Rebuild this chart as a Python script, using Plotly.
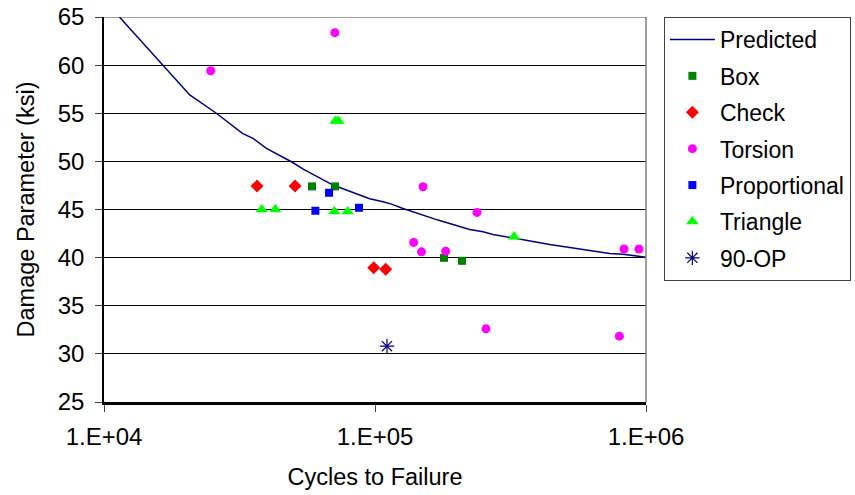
import plotly.graph_objects as go

# ---- data ----
pred_n = [10950, 16750, 20720, 25980, 32420, 35460, 39750, 49150, 54550, 70000,
          87800, 95600, 107000, 115000, 126900, 170800, 223500, 250300, 272500,
          441300, 585600, 735000, 822400, 989000, 1000000]
pred_s = [65.55, 59.83, 56.9, 55.0, 52.9, 52.39, 51.35, 49.96, 49.17, 47.54,
          46.5, 46.11, 45.8, 45.56, 45.11, 43.9, 42.93, 42.68, 42.41,
          41.37, 40.85, 40.44, 40.36, 40.08, 40.05]

box_n = [58560, 71200, 179700, 209400]
box_s = [47.4, 47.4, 39.98, 39.67]

check_n = [36700, 50700, 98900, 109500]
check_s = [47.43, 47.43, 38.94, 38.8]

torsion_n = [24770, 71100, 150400, 237900, 138900, 148400, 182300, 256800, 797800, 829700, 942000]
torsion_s = [59.42, 63.37, 47.36, 44.7, 41.58, 40.6, 40.67, 32.6, 31.84, 40.9, 40.9]

prop_n = [60260, 67700, 87300]
prop_s = [44.87, 46.74, 45.18]

tri_n = [38200, 42900, 70800, 79300, 71500, 73300, 326000]
tri_s = [45.0, 45.0, 44.8, 44.8, 54.2, 54.2, 42.16]

op90_n = [110700]
op90_s = [30.8]

y_ticks = [25, 30, 35, 40, 45, 50, 55, 60, 65]
x_ticks = [1e4, 1e5, 1e6]
x_tick_labels = ["1.E+04", "1.E+05", "1.E+06"]

FONT = "Liberation Sans, Arial, sans-serif"
FS = 24
FT = 23.5
FL = 23

fig = go.Figure()
fig.add_trace(go.Scatter(x=pred_n, y=pred_s, mode="lines", name="Predicted",
                         line=dict(color="#000080", width=1.5), legendgroup="a"))
fig.add_trace(go.Scatter(x=box_n, y=box_s, mode="markers", name="Box", legendgroup="b",
                         marker=dict(symbol="square", size=8, color="#008000")))
fig.add_trace(go.Scatter(x=check_n, y=check_s, mode="markers", name="Check", legendgroup="c",
                         marker=dict(symbol="diamond", size=10, color="#FF0000")))
fig.add_trace(go.Scatter(x=torsion_n, y=torsion_s, mode="markers", name="Torsion", legendgroup="d",
                         marker=dict(symbol="circle", size=9, color="#FF00FF")))
fig.add_trace(go.Scatter(x=prop_n, y=prop_s, mode="markers", name="Proportional", legendgroup="e",
                         marker=dict(symbol="square", size=8, color="#0000FF")))
fig.add_trace(go.Scatter(x=tri_n, y=tri_s, mode="markers", name="Triangle", legendgroup="f",
                         marker=dict(symbol="triangle-up", size=11, color="#00FF00")))
fig.add_trace(go.Scatter(x=op90_n, y=op90_s, mode="markers", name="90-OP", legendgroup="g",
                         marker=dict(symbol="asterisk-open", size=12, color="#000080",
                                     line=dict(color="#000080", width=1.2))))

fig.update_layout(
    width=855, height=495,
    margin=dict(l=104, r=209, t=17, b=93, autoexpand=False),
    paper_bgcolor="white", plot_bgcolor="white",
    font=dict(family=FONT, size=FS, color="black"),
    showlegend=True,
    legend=dict(x=1.033, y=1.0, xanchor="left", yanchor="top",
                bordercolor="#404040", borderwidth=1, bgcolor="white",
                font=dict(size=FL), tracegroupgap=3.5, traceorder="grouped",
                itemwidth=45),
    xaxis=dict(type="log", range=[4, 6], tickvals=x_ticks, ticktext=x_tick_labels,
               showgrid=False, showline=True, linecolor="black", linewidth=2.5,
               ticks="outside", ticklen=7, tickcolor="#404040", tickwidth=1,
               ticklabelstandoff=4, zeroline=False, automargin=False,
               ticklabeloverflow="allow",
               title=dict(text="Cycles to Failure", font=dict(size=FT), standoff=21)),
    yaxis=dict(range=[25, 65], tickvals=y_ticks, showgrid=True, gridcolor="black",
               gridwidth=1, showline=True, linecolor="black", linewidth=1.5,
               ticks="outside", ticklen=7, tickcolor="#404040", tickwidth=1,
               ticklabelstandoff=6, zeroline=False, automargin=False,
               ticklabeloverflow="allow",
               title=dict(text="Damage Parameter (ksi)", font=dict(size=FT), standoff=17)),
    shapes=[
        dict(type="line", xref="paper", yref="paper", x0=1, x1=1, y0=0, y1=1,
             line=dict(color="#808080", width=1.5)),
        dict(type="line", xref="paper", yref="y", x0=0, x1=1, y0=65, y1=65,
             line=dict(color="#404040", width=1)),
    ],
)

fig.write_html("out.html", config={"displayModeBar": False},
               post_script="document.body.style.margin='0px';document.body.style.overflow='hidden';")
